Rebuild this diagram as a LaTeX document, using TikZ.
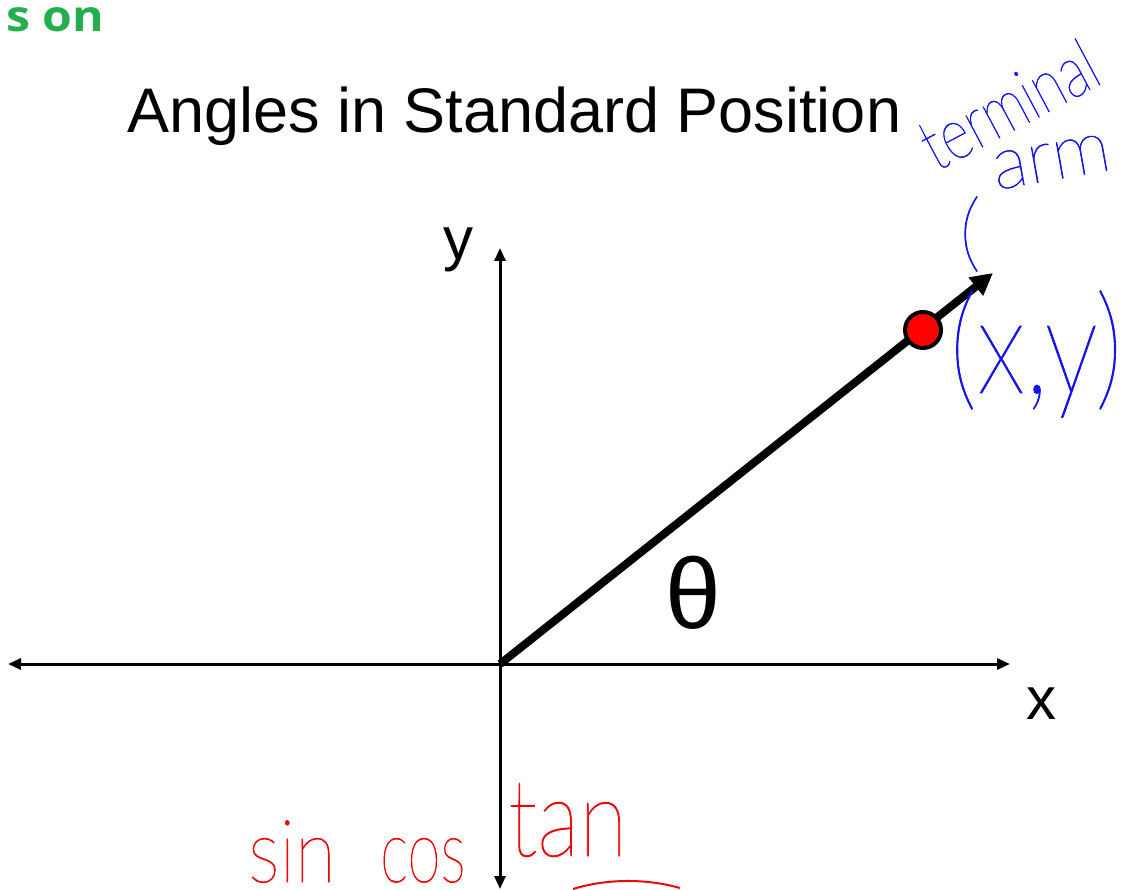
\documentclass[tikz,border=0pt]{standalone}
\usepackage{fontspec}
\setmainfont{Liberation Sans}
\newfontfamily\greenfont{Open Sans}
\newfontfamily\hand{Lato Hairline}[FakeBold=0.8]
\usetikzlibrary{arrows.meta}
\definecolor{titlegreen}{RGB}{36,174,78}
\definecolor{inkblue}{RGB}{20,20,235}
\definecolor{inkred}{RGB}{235,10,10}
\begin{document}
\begin{tikzpicture}[x=1pt,y=-1pt,
  axis/.style={line width=3pt,{Triangle[length=13pt,width=11pt]}-{Triangle[length=13pt,width=11pt]}},
  arm/.style={line width=8pt,-{Triangle[length=22pt,width=22pt]}},
  lbl/.style={inner sep=0pt,font=\fontsize{60}{60}\selectfont},
  blueink/.style={inner sep=0pt,text=inkblue},
  redink/.style={inner sep=0pt,text=inkred}]
\useasboundingbox (0,0) rectangle (1126,890);
\fill[white] (0,0) rectangle (1126,890);
% green fragment
\node[anchor=base west,inner sep=0pt,text=titlegreen,xscale=1.12,font=\greenfont\bfseries\fontsize{43}{43}\selectfont] (frag) at (6,32) {s on};
% title
\node[anchor=base west,inner sep=0pt,font=\fontsize{63}{63}\selectfont] (title) at (127,133) {Angles in Standard Position};
% axes
\coordinate (O) at (500,664);
\coordinate (XL) at (8,664);
\coordinate (XR) at (1010,664);
\coordinate (YT) at (500,248);
\coordinate (YB) at (500,889);
\coordinate (T) at (993,273);
\draw[axis] (XL) -- (XR);
\draw[axis] (YB) -- (YT);
\draw[arm] (O) -- (T);
\node[circle,fill=red,draw=black,line width=4pt,minimum size=36pt,inner sep=0pt] (P) at (923,330) {};
% labels
\node[lbl] (ylab) at (458,250) {y};
\node[lbl] (xlab) at (1041,704) {x};
\node[inner sep=0pt,font=\fontsize{100}{100}\selectfont] (theta) at (693,593) {θ};
% blue handwriting
\node[blueink,rotate=28,yscale=1.3,font=\hand\fontsize{56}{56}\selectfont,anchor=base west] (term) at (936,172) {terminal};
\node[blueink,rotate=10,font=\hand\fontsize{74}{74}\selectfont,anchor=base west] (arm) at (996,190) {arm};
\node[blueink,font=\hand\fontsize{86}{86}\selectfont] (paren) at (970,234) {(};
\node[blueink,font=\hand\fontsize{136}{136}\selectfont,xscale=0.8] (xy) at (1036,354) {(x,y)};
% red handwriting
\node[redink,font=\hand\fontsize{88}{88}\selectfont,anchor=base west,xscale=0.85] (sin) at (248,882) {sin};
\node[redink,font=\hand\fontsize{88}{88}\selectfont,anchor=base west,xscale=0.68] (cos) at (380,882) {cos};
\node[redink,font=\hand\fontsize{108}{108}\selectfont,anchor=base west,xscale=0.82] (tan) at (508,856) {tan};
\draw[inkred,line width=2pt] (573,889) .. controls (605,879) and (645,878) .. (680,888);
\end{tikzpicture}
\end{document}
